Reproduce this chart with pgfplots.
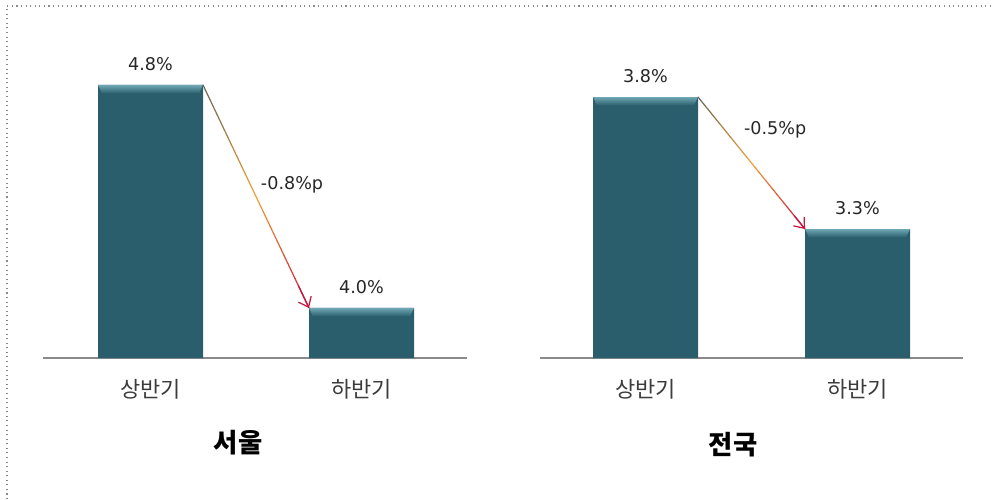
\documentclass[border=0pt]{standalone}
\usepackage{fontspec}
\setmainfont{Noto Sans CJK KR}
\newfontfamily\latinfont{DejaVu Sans}
\usepackage{pgfplots}
\pgfplotsset{compat=1.18}
\usetikzlibrary{calc,arrows.meta}
\definecolor{barmain}{HTML}{2A5E6C}
\definecolor{barlight}{HTML}{6FA7B5}
\definecolor{arrA}{HTML}{66665A}
\definecolor{arrB}{HTML}{F2A33A}
\definecolor{arrC}{HTML}{C8143C}
\definecolor{axisgray}{HTML}{8A8A8A}
\definecolor{textgray}{HTML}{3C3C3C}
\pgfdeclareplotmark{bevel}{%
  \shade[draw=none, top color=barlight, bottom color=barmain] (-1.05cm,0cm) -- (1.05cm,0cm) -- (0.97cm,-0.17cm) -- (-0.97cm,-0.17cm) -- cycle;}
\pgfplotsset{
  panel/.style={
    scale only axis, height=6.36cm,
    axis x line=bottom, axis y line=none,
    axis line style={axisgray, line width=0.6pt, -},
    xtick={0,1}, xticklabels={상반기,하반기},
    major tick length=0pt,
    xticklabel style={font=\fontsize{12.5}{14}\selectfont, text=textgray, yshift=-0.3cm},
  },
  barstyle/.style={
    ybar, bar width=2.1cm, fill=barmain, draw=none,
    nodes near coords={\pgfmathprintnumber[fixed,fixed zerofill,precision=1,assume math mode=true]{\pgfplotspointmeta}\%},
    every node near coord/.append style={font=\latinfont\fontsize{10}{12}\selectfont, text=black!85, yshift=0.16cm},
  },
  bevelstyle/.style={only marks, mark=bevel, draw=none, mark options={draw=none}},
}
\begin{document}
\begin{tikzpicture}
\useasboundingbox (0,0) rectangle (19.88cm,-9.98cm);
\begin{axis}[panel, at={(0.86cm,-7.16cm)}, anchor=south west,
  width=8.48cm, xmin=-0.5095, xmax=1.5, ymin=3.8206, ymax=4.9614]
\addplot[barstyle] coordinates {(0,4.8) (1,4.0)};
\addplot[bevelstyle] coordinates {(0,4.8) (1,4.0)};
\coordinate (L1) at (axis cs:0.2488,4.8);
\coordinate (L2) at (axis cs:0.7512,4.0);
\end{axis}
\begin{axis}[panel, at={(10.8cm,-7.16cm)}, anchor=south west,
  width=8.46cm, xmin=-0.4976, xmax=1.4976, ymin=2.8114, ymax=4.0159]
\addplot[barstyle] coordinates {(0,3.8) (1,3.3)};
\addplot[bevelstyle] coordinates {(0,3.8) (1,3.3)};
\coordinate (R1) at (axis cs:0.2476,3.8);
\coordinate (R2) at (axis cs:0.7524,3.3);
\end{axis}
\foreach \A/\B in {L1/L2,R1/R2}{
  \foreach \i in {0,...,29}{
    \pgfmathsetmacro\ta{\i/30}
    \pgfmathsetmacro\tb{(\i+1)/30}
    \pgfmathsetmacro\tm{(\i+0.5)/30}
    \pgfmathsetmacro\pa{min(\tm*200,100)}
    \pgfmathsetmacro\pq{100-max((\tm-0.5)*200,0)}
    \colorlet{segc}{arrB!\pa!arrA!\pq!arrC}
    \draw[segc, line width=0.7pt, line cap=round] ($(\A)!\ta!(\B)$) -- ($(\A)!\tb!(\B)$);
  }
  \draw[arrC, line width=0.7pt, -{Straight Barb[length=5pt,width=8pt]}] ($(\A)!0.9!(\B)$) -- (\B);
}
\begin{scope}[x=0.02cm,y=-0.02cm]
\draw[axisgray, dotted, line width=0.6pt] (7,499) -- (7,6) -- (994,6);
\node[font=\latinfont\fontsize{10}{12}\selectfont, text=black!85] at (292,185) {-0.8\%p};
\node[font=\latinfont\fontsize{10}{12}\selectfont, text=black!85] at (775,130) {-0.5\%p};
\node[font=\bfseries\fontsize{15}{18}\selectfont] at (238,443) {서울};
\node[font=\bfseries\fontsize{15}{18}\selectfont] at (733,445) {전국};
\end{scope}
\end{tikzpicture}
\end{document}
